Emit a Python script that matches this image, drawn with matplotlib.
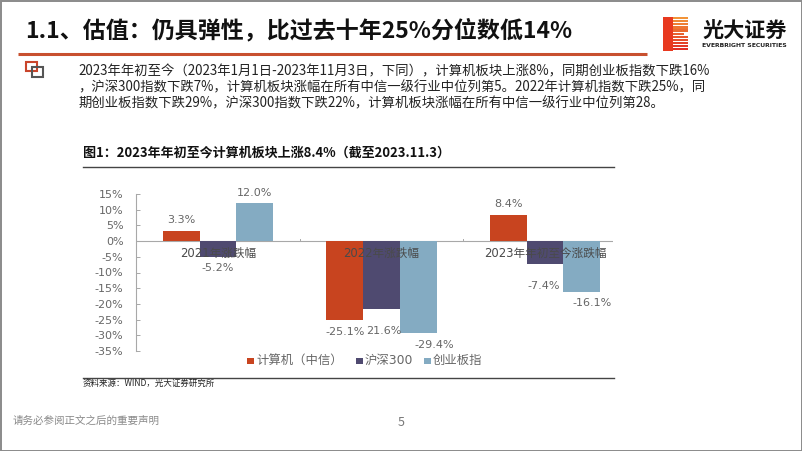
import matplotlib
matplotlib.use('Agg')
import matplotlib.pyplot as plt
from matplotlib.patches import Rectangle

plt.rcParams['font.family'] = ['Noto Sans CJK SC', 'DejaVu Sans']

W, H = 802, 451
categories = ['2021年涨跌幅', '2022年涨跌幅', '2023年年初至今涨跌幅']
series_names = ['计算机（中信）', '沪深300', '创业板指']
computer = [3.3, -25.1, 8.4]
hs300 = [-5.2, -21.6, -7.4]
chinext = [12.0, -29.4, -16.1]
labels_computer = ['3.3%', '-25.1%', '8.4%']
labels_hs300 = ['-5.2%', '21.6%', '-7.4%']
labels_chinext = ['12.0%', '-29.4%', '-16.1%']
yticks = [15, 10, 5, 0, -5, -10, -15, -20, -25, -30, -35]
colors = ['#C8441F', '#4F4A70', '#84ABC2']
title = '1.1、估值：仍具弹性，比过去十年25%分位数低14%'
body = ['2023年年初至今（2023年1月1日-2023年11月3日，下同），计算机板块上涨8%，同期创业板指数下跌16%',
        '，沪深300指数下跌7%，计算机板块涨幅在所有中信一级行业中位列第5。2022年计算机指数下跌25%，同',
        '期创业板指数下跌29%，沪深300指数下跌22%，计算机板块涨幅在所有中信一级行业中位列第28。']
fig_title = '图1：2023年年初至今计算机板块上涨8.4%（截至2023.11.3）'
source = '资料来源：WIND，光大证券研究所'
footer = '请务必参阅正文之后的重要声明'

fig = plt.figure(figsize=(W/100, H/100), dpi=100, facecolor='white')

# page layer in pixel coordinates
pg = fig.add_axes([0, 0, 1, 1], zorder=0)
pg.set_xlim(0, W); pg.set_ylim(H, 0); pg.axis('off')
pg.add_patch(Rectangle((0.5, 0.5), W-1, H-1, fill=False, ec='#8A8A8A', lw=1.4))
pg.text(25, 31, title, fontsize=16.55, color='#111111', va='center', ha='left', fontweight='bold')
pg.plot([18, 647], [53.5, 53.5], color='#C8502F', lw=2.2, solid_capstyle='butt')
pg.add_patch(Rectangle((26, 61.5), 10.5, 9.5, fill=False, ec='#C9452B', lw=1.5))
pg.add_patch(Rectangle((32, 67), 10.5, 10, fill=False, ec='#555555', lw=1.5))
for i, line in enumerate(body):
    pg.text(78.5, 71 + i*16, line, fontsize=9.6, color='#222222', va='center', ha='left')
pg.text(83, 153, fig_title, fontsize=9.4, color='#111111', va='center', ha='left', fontweight='bold')
pg.plot([83, 614], [167, 167], color='#444444', lw=1)
pg.plot([83, 614], [378, 378], color='#444444', lw=1)
pg.text(83, 383.5, source, fontsize=6.1, color='#222222', va='center', ha='left')
pg.text(13, 421, footer, fontsize=7.6, color='#8A8A8A', va='center', ha='left')
pg.text(401, 423, '5', fontsize=9, color='#777777', va='center', ha='center')

# logo
pg.add_patch(Rectangle((663, 17), 10, 34, fc='#E8391F', ec='none'))
n_stripes = 11
for k in range(n_stripes):
    y = 17 + k*3.1
    frac = k/(n_stripes-1)
    edge = 684 if k == 5 else 688
    c = (0.95-0.07*frac, 0.58-0.40*frac, 0.22-0.08*frac)
    pg.add_patch(Rectangle((673, y), edge-673, 2.2, fc=c, ec='none'))

pg.text(744.5, 31, '光大证券', fontsize=15.2, fontweight='bold', color='#111111', va='center', ha='center')
pg.text(744.5, 45.5, 'EVERBRIGHT SECURITIES', fontsize=4.4, fontweight='bold', color='#222222', va='center', ha='center',
        family=['DejaVu Sans'])

# chart
left, right, top, bottom = 136, 613, 194, 351
ax = fig.add_axes([left/W, 1-bottom/H, (right-left)/W, (bottom-top)/H], zorder=1)
ax.patch.set_alpha(0)
group = 163.5
ax.set_xlim((left-218)/group, (right-218)/group)
ax.set_ylim(-35, 15)
bw = 36.7/group
grey = '#A8A8A8'
tc = '#666666'
allv = [computer, hs300, chinext]
alll = [labels_computer, labels_hs300, labels_chinext]
# label offsets (px from the bar end to the label centre), by series then group
label_dx = [[0, 0, 0], [0, 2, -1], [0, 16, 10]]
label_dy = [[11, 12, 11], [11, 22, 22], [10.5, 11.5, 11]]
for s, (vals, labs) in enumerate(zip(allv, alll)):
    for c, (v, lab) in enumerate(zip(vals, labs)):
        x = c + (s-1)*bw
        ax.bar(x, v, width=bw, color=colors[s], zorder=2)
        sign = 1 if v > 0 else -1
        ax.annotate(lab, (x, v), xytext=(label_dx[s][c]*0.72, sign*label_dy[s][c]*0.72),
                    textcoords='offset points', ha='center', va='center',
                    fontsize=8, color=tc, zorder=4, family=['DejaVu Sans'])
for sp in ['top', 'right', 'bottom']:
    ax.spines[sp].set_visible(False)
ax.spines['left'].set_color(grey)
ax.spines['left'].set_linewidth(0.8)
ax.axhline(0, color=grey, lw=0.8, zorder=1)
ax.set_yticks(yticks)
ax.set_yticklabels([f'{t}%' for t in yticks], fontsize=8, color=tc, family=['DejaVu Sans'])
ax.tick_params(axis='y', length=3, width=0.7, color=grey, pad=9, direction='in')
ax.set_xticks([])
for i in [0.5, 1.5]:
    ax.plot([i, i], [0, 0.6], color=grey, lw=0.7, zorder=1)
for i, cat in enumerate(categories):
    ax.annotate(cat, (i, 0), xytext=(0, -8.7), textcoords='offset points', ha='center', va='center',
                fontsize=8.4, color='#4A4A4A', zorder=5,
                family=['DejaVu Sans', 'Noto Sans CJK SC'])

# legend
lx = [246.5, 356, 424]
tx = [256, 365, 433]
for name, x, t, c in zip(series_names, lx, tx, colors):
    pg.add_patch(Rectangle((x, 357.5), 7, 6.5, fc=c, ec='none'))
    pg.text(t, 360.7, name, fontsize=8.9, color=tc, va='center', ha='left',
            family=['DejaVu Sans', 'Noto Sans CJK SC'])

fig.savefig('out.png', dpi=100)
